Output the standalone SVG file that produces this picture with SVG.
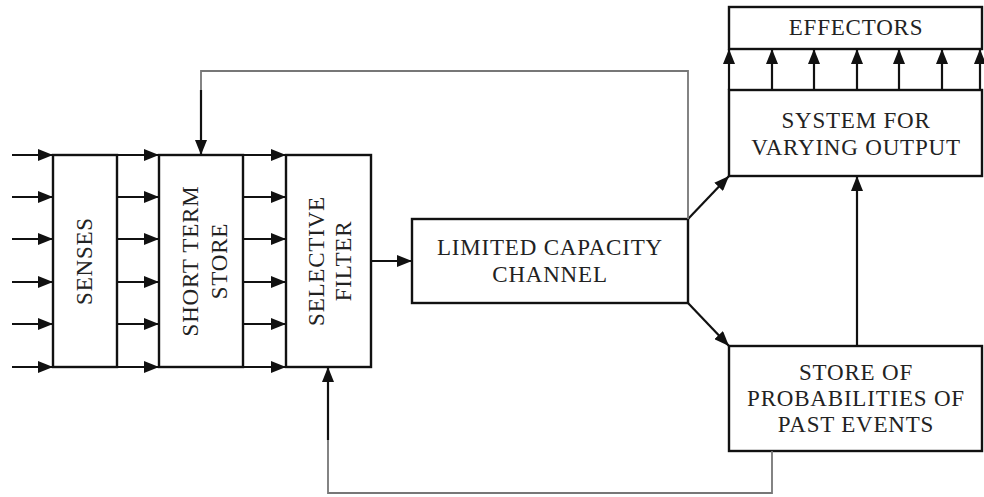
<svg xmlns="http://www.w3.org/2000/svg" width="984" height="497" viewBox="0 0 984 497">
<style>
.box{fill:#fff;stroke:#111;stroke-width:2.4}
.ln{fill:none;stroke:#111;stroke-width:2.2}
.fb{fill:none;stroke:#777;stroke-width:1.8}
text{font-family:'Liberation Serif','DejaVu Serif','Times New Roman',serif;font-size:23px;fill:#222;text-anchor:middle;letter-spacing:0.8px}
</style>
<defs>
<marker id="ah" markerUnits="userSpaceOnUse" markerWidth="15" markerHeight="12" refX="15" refY="6" orient="auto">
<path d="M0,0 L15,6 L0,12 z" fill="#111"/>
</marker>
</defs>
<rect width="984" height="497" fill="#fff"/>
<g id="senses"><rect class="box" x="53" y="155" width="64" height="212"/>
<text transform="translate(92,261) rotate(-90)">SENSES</text></g>
<g id="short-term-store"><rect class="box" x="159" y="155" width="84" height="212"/>
<text transform="translate(198,261) rotate(-90)">SHORT TERM</text>
<text transform="translate(227,261) rotate(-90)">STORE</text></g>
<g id="selective-filter"><rect class="box" x="286" y="155" width="85" height="212"/>
<text transform="translate(324,261) rotate(-90)">SELECTIVE</text>
<text transform="translate(351,261) rotate(-90)">FILTER</text></g>
<g id="limited-capacity-channel"><rect class="box" x="412" y="219" width="276" height="84"/>
<text x="550" y="255">LIMITED CAPACITY</text>
<text x="550" y="282">CHANNEL</text></g>
<g id="effectors"><rect class="box" x="729" y="7" width="253" height="42"/>
<text x="856" y="35">EFFECTORS</text></g>
<g id="system-for-varying-output"><rect class="box" x="729" y="90" width="253" height="86"/>
<text x="856" y="128">SYSTEM FOR</text>
<text x="856" y="155">VARYING OUTPUT</text></g>
<g id="store-of-probabilities"><rect class="box" x="729" y="346" width="253" height="105"/>
<text x="856" y="380">STORE OF</text>
<text x="856" y="406">PROBABILITIES OF</text>
<text x="856" y="432">PAST EVENTS</text></g>
<g id="connectors">
<g class="ln" marker-end="url(#ah)">
<path d="M12,155H53"/><path d="M12,197H53"/><path d="M12,239H53"/><path d="M12,282H53"/><path d="M12,324H53"/><path d="M12,367H53"/>
<path d="M117,155H159"/><path d="M117,197H159"/><path d="M117,239H159"/><path d="M117,282H159"/><path d="M117,324H159"/><path d="M117,367H159"/>
<path d="M243,155H286"/><path d="M243,197H286"/><path d="M243,239H286"/><path d="M243,282H286"/><path d="M243,324H286"/><path d="M243,367H286"/>
<path d="M371,261H412"/>
<path d="M688,219L729,176"/>
<path d="M688,303L729,346"/>
<path d="M857,346V176"/>
<path d="M729,90V49"/><path d="M772,90V49"/><path d="M814,90V49"/><path d="M857,90V49"/><path d="M899,90V49"/><path d="M942,90V49"/><path d="M980,90V49"/>
</g>
<path class="fb" d="M688,219V71H201V90"/>
<path class="ln" d="M201,90V155" marker-end="url(#ah)"/>
<path class="fb" d="M772,451V493H328V440"/>
<path class="ln" d="M328,440V367" marker-end="url(#ah)"/>
</g>
</svg>
